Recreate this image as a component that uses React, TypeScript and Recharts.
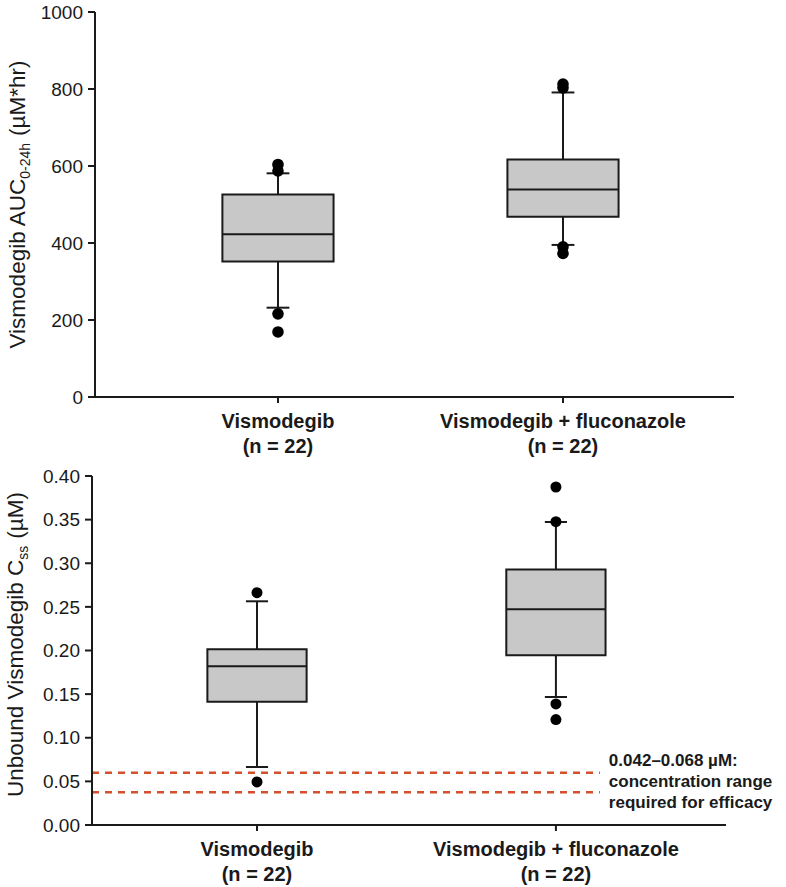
import React from "react";
import {
  ComposedChart,
  XAxis,
  YAxis,
  Scatter,
  ReferenceArea,
  ReferenceLine,
} from "recharts";

// categories
const groups = ["Vismodegib", "Vismodegib + fluconazole"];
const groupN = ["(n = 22)", "(n = 22)"];
const groupPos = [1, 2];

// top panel: AUC 0-24h (µM*hr)
const aucMin = [232, 395];
const aucQ1 = [352, 468];
const aucMedian = [423, 539];
const aucQ3 = [526, 617];
const aucMax = [581, 791];
const aucOutliers = [
  [604, 587, 216, 169],
  [813, 803, 390, 373],
];
const aucTicks = [0, 200, 400, 600, 800, 1000];

// bottom panel: unbound Css (µM)
const cssMin = [0.0665, 0.1467];
const cssQ1 = [0.1414, 0.1945];
const cssMedian = [0.182, 0.2472];
const cssQ3 = [0.2014, 0.2927];
const cssMax = [0.2564, 0.3473];
const cssOutliers = [
  [0.2663, 0.0493],
  [0.3874, 0.3477, 0.1387, 0.1208],
];
const cssTicks = [0, 0.05, 0.1, 0.15, 0.2, 0.25, 0.3, 0.35, 0.4];
const efficacyBand = [0.0375, 0.06];
const efficacyText = ["0.042–0.068 µM:", "concentration range", "required for efficacy"];

const FONT = "'Liberation Sans', Arial, Helvetica, sans-serif";
const INK = "#1a1a1a";
const BOX_FILL = "#c8c8c8";
const RED = "#d2502c";

const CategoryTick = (props: any) => {
  const { x, y, payload } = props;
  const i = groupPos.indexOf(payload.value);
  return (
    <text
      x={x}
      y={y}
      textAnchor="middle"
      fontFamily={FONT}
      fontWeight="bold"
      fontSize={20}
      fill={INK}
    >
      <tspan x={x} dy={23}>
        {groups[i]}
      </tspan>
      <tspan x={x} dy={25}>
        {groupN[i]}
      </tspan>
    </text>
  );
};

const AxisTitle = ({ viewBox, tx, shift, main, sub, tail }: any) => {
  const cy = viewBox.y + viewBox.height / 2 + (shift || 0);
  return (
    <text
      x={tx}
      y={cy}
      transform={`rotate(-90, ${tx}, ${cy})`}
      textAnchor="middle"
      fontFamily={FONT}
      fontSize={22.5}
      fill={INK}
    >
      {main}
      <tspan fontSize={14} dy={5}>
        {sub}
      </tspan>
      <tspan dy={-5} dx={7}>
        {tail}
      </tspan>
    </text>
  );
};

const Dot = (props: any) => (
  <circle cx={props.cx} cy={props.cy} r={props.r} fill="#000" />
);

function boxPlot(
  mins: number[],
  q1s: number[],
  meds: number[],
  q3s: number[],
  maxs: number[],
  halfBox: number,
  halfCap: number
) {
  const out: React.ReactNode[] = [];
  groupPos.forEach((p, i) => {
    out.push(
      <ReferenceLine
        key={`wu${i}`}
        segment={[
          { x: p, y: q3s[i] },
          { x: p, y: maxs[i] },
        ]}
        stroke={INK}
        strokeWidth={2}
      />,
      <ReferenceLine
        key={`wl${i}`}
        segment={[
          { x: p, y: q1s[i] },
          { x: p, y: mins[i] },
        ]}
        stroke={INK}
        strokeWidth={2}
      />,
      <ReferenceLine
        key={`cu${i}`}
        segment={[
          { x: p - halfCap, y: maxs[i] },
          { x: p + halfCap, y: maxs[i] },
        ]}
        stroke={INK}
        strokeWidth={2}
      />,
      <ReferenceLine
        key={`cl${i}`}
        segment={[
          { x: p - halfCap, y: mins[i] },
          { x: p + halfCap, y: mins[i] },
        ]}
        stroke={INK}
        strokeWidth={2}
      />,
      <ReferenceArea
        key={`b${i}`}
        x1={p - halfBox}
        x2={p + halfBox}
        y1={q1s[i]}
        y2={q3s[i]}
        fill={BOX_FILL}
        fillOpacity={1}
        stroke={INK}
        strokeWidth={2}
      />,
      <ReferenceLine
        key={`m${i}`}
        segment={[
          { x: p - halfBox, y: meds[i] },
          { x: p + halfBox, y: meds[i] },
        ]}
        stroke={INK}
        strokeWidth={2}
      />
    );
  });
  return out;
}

const outlierData = (vals: number[][]) =>
  vals.flatMap((arr, i) => arr.map((v) => ({ x: groupPos[i], y: v })));

const EfficacyLabel = ({ viewBox }: any) => {
  const x = viewBox.x + viewBox.width + 9;
  const y = viewBox.y;
  return (
    <text
      x={x}
      y={y}
      fontFamily={FONT}
      fontWeight="bold"
      fontSize={17}
      fill={INK}
    >
      {efficacyText.map((t, i) => (
        <tspan key={i} x={x} dy={i === 0 ? -7 : 21}>
          {t}
        </tspan>
      ))}
    </text>
  );
};

const axisStyle = { stroke: INK, strokeWidth: 2 };
const tickFont = { fontFamily: FONT, fontSize: 19, fill: INK };

export default function App() {
  const topDomain: [number, number] = [0.358, 2.6];
  const botDomain: [number, number] = [0.448, 2.569];
  return (
    <div
      style={{
        position: "absolute",
        left: 0,
        top: 0,
        width: 786,
        height: 887,
        background: "#fff",
      }}
    >
      <div style={{ position: "absolute", left: 0, top: 0 }}>
        <ComposedChart
          width={786}
          height={460}
          margin={{ top: 12, right: 52, bottom: 0, left: 35 }}
        >
          <XAxis
            type="number"
            dataKey="x"
            domain={topDomain}
            allowDataOverflow
            ticks={groupPos}
            interval={0}
            height={63}
            axisLine={axisStyle}
            tickLine={axisStyle}
            tickSize={6}
            tick={<CategoryTick />}
          />
          <YAxis
            type="number"
            dataKey="y"
            domain={[0, 1000]}
            ticks={aucTicks}
            interval={0}
            width={60}
            axisLine={axisStyle}
            tickLine={axisStyle}
            tickSize={7}
            tickMargin={5}
            tick={tickFont}
            label={
              <AxisTitle
                tx={25}
                main="Vismodegib AUC"
                sub="0-24h"
                tail="(µM*hr)"
              />
            }
          />
          {boxPlot(aucMin, aucQ1, aucMedian, aucQ3, aucMax, 0.195, 0.04)}
          <Scatter
            data={outlierData(aucOutliers)}
            isAnimationActive={false}
            shape={<Dot r={5.8} />}
          />
        </ComposedChart>
      </div>
      <div style={{ position: "absolute", left: 0, top: 460 }}>
        <ComposedChart
          width={786}
          height={427}
          margin={{ top: 16, right: 60, bottom: 0, left: 32 }}
        >
          <XAxis
            type="number"
            dataKey="x"
            domain={botDomain}
            allowDataOverflow
            ticks={groupPos}
            interval={0}
            height={62}
            axisLine={axisStyle}
            tickLine={axisStyle}
            tickSize={6}
            tick={<CategoryTick />}
          />
          <YAxis
            type="number"
            dataKey="y"
            domain={[0, 0.4]}
            ticks={cssTicks}
            interval={0}
            width={60}
            axisLine={axisStyle}
            tickLine={axisStyle}
            tickSize={7}
            tickMargin={5}
            tick={tickFont}
            tickFormatter={(v: number) => v.toFixed(2)}
            label={
              <AxisTitle
                tx={23}
                shift={-6}
                main="Unbound Vismodegib C"
                sub="ss"
                tail="(µM)"
              />
            }
          />
          <ReferenceLine
            segment={[
              { x: botDomain[0], y: efficacyBand[1] },
              { x: 2.147, y: efficacyBand[1] },
            ]}
            stroke={RED}
            strokeWidth={2.5}
            strokeDasharray="7 6"
            label={<EfficacyLabel />}
          />
          <ReferenceLine
            segment={[
              { x: botDomain[0], y: efficacyBand[0] },
              { x: 2.147, y: efficacyBand[0] },
            ]}
            stroke={RED}
            strokeWidth={2.5}
            strokeDasharray="7 6"
          />
          {boxPlot(cssMin, cssQ1, cssMedian, cssQ3, cssMax, 0.166, 0.037)}
          <Scatter
            data={outlierData(cssOutliers)}
            isAnimationActive={false}
            shape={<Dot r={5.5} />}
          />
        </ComposedChart>
      </div>
    </div>
  );
}
